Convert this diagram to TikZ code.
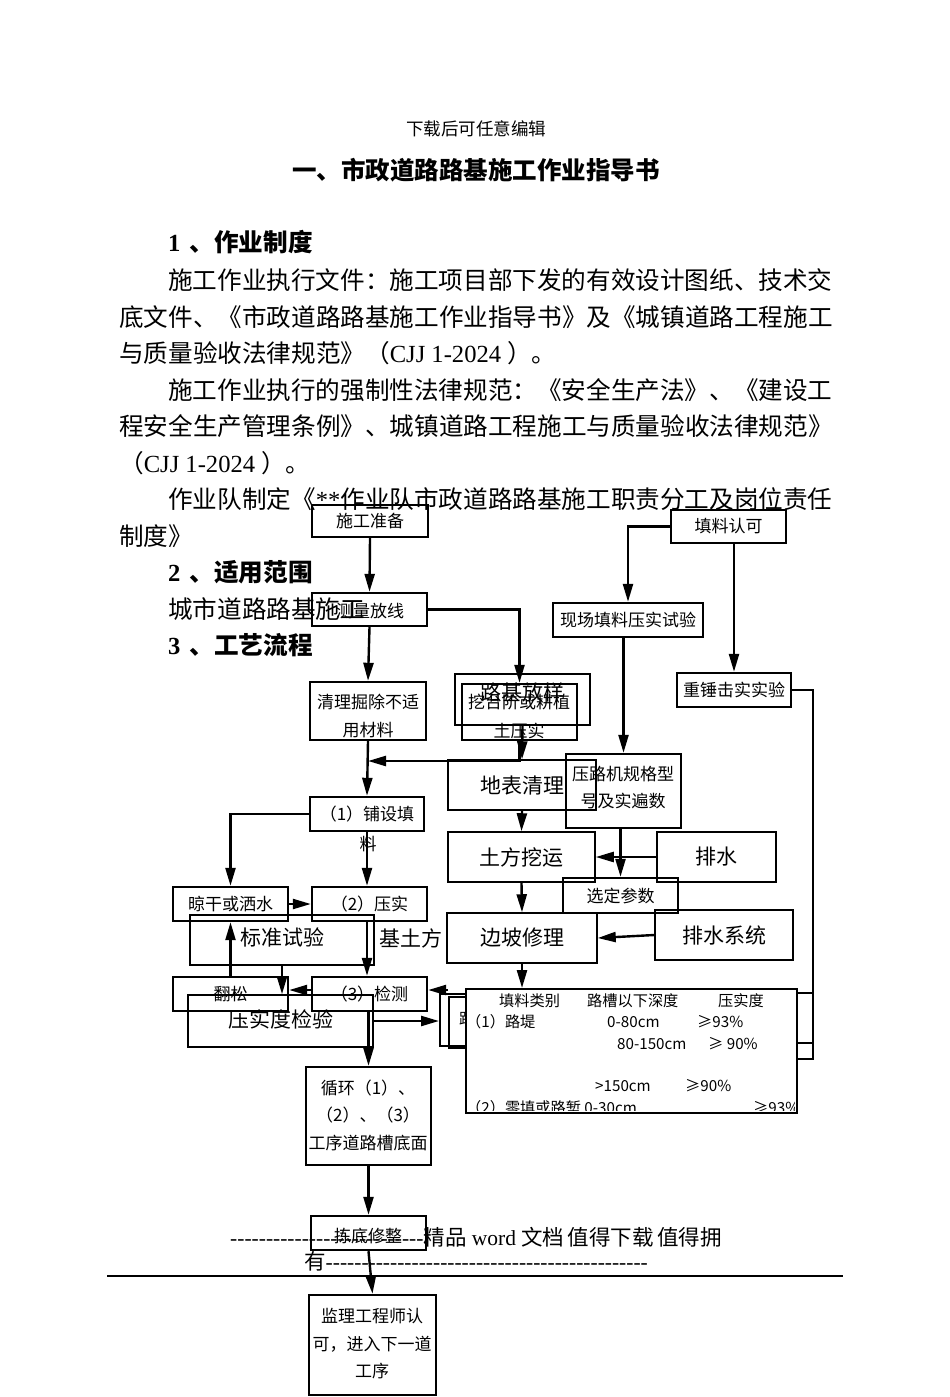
\documentclass[tikz,border=0pt]{standalone}
\usepackage{fontspec}
\setmainfont{Liberation Serif}
\newfontfamily\cjk{Noto Sans CJK SC}
\usetikzlibrary{arrows.meta}
\newcommand\latn[1]{{\rmfamily #1}}
\newcommand\dsh[1]{\foreach \i in {1,...,#1}{\hbox{-}}}
\begin{document}
\begin{tikzpicture}[x=1pt,y=-1pt,
  box/.style={draw, line width=2.4pt, inner sep=0pt, minimum width=115pt, minimum height=34pt, font=\cjk\fontsize{17}{27}\selectfont},
  tbox/.style={draw, line width=1.5pt, inner sep=0pt, font=\cjk\fontsize{21}{27}\selectfont},
  lbl/.style={inner sep=0pt, align=center, font=\cjk\fontsize{17}{27.5}\selectfont},
  big/.style={inner sep=0pt, font=\cjk\fontsize{21}{27}\selectfont},
  body/.style={inner sep=0pt, anchor=west, font=\cjk\fontsize{24.6}{28}\selectfont},
  head/.style={inner sep=0pt, anchor=west, font=\cjk\bfseries\fontsize{24.6}{28}\selectfont},
  tab/.style={inner sep=0pt, anchor=west, font=\cjk\fontsize{15.2}{18}\selectfont},
  conn/.style={line width=2.4pt},
  arr/.style={line width=2.4pt, -{Triangle[length=18pt,width=10pt]}},
]
\useasboundingbox (0,0) rectangle (950,1397);
\fill[white] (0,0) rectangle (950,1397);

% ---------- page text ----------
\node[inner sep=0pt, font=\cjk\fontsize{17.5}{20}\selectfont] (dl) at (476,129) {下载后可任意编辑};
\node[inner sep=0pt, font=\cjk\bfseries\fontsize{24.5}{28}\selectfont] (title) at (476,170) {一、市政道路路基施工作业指导书};
\node[head] (h1) at (168,242) {\latn{\bfseries 1 }\hspace{3pt}、作业制度};
\node[body] (b1) at (168,280) {施工作业执行文件：施工项目部下发的有效设计图纸、技术交};
\node[body] (b2) at (119,317) {底文件、《市政道路路基施工作业指导书》及《城镇道路工程施工};
\node[body] (b3) at (119,353) {与质量验收法律规范》（\latn{CJJ 1-2024 }）。};
\node[body] (b4) at (168,390) {施工作业执行的强制性法律规范：《安全生产法》、《建设工};
\node[body] (b5) at (119,426) {程安全生产管理条例》、城镇道路工程施工与质量验收法律规范》};
\node[body] (b6) at (119,463) {（\latn{CJJ 1-2024 }）。};
\node[body] (b7) at (168,499) {作业队制定《\latn{**}作业队市政道路路基施工职责分工及岗位责任};
\node[body] (b8) at (119,536) {制度》};
\node[head] (h2) at (168,572) {\latn{\bfseries 2 }\hspace{3pt}、适用范围};
\node[body] (b9) at (168,609) {城市道路路基施工};
\node[head] (h3) at (168,645) {\latn{\bfseries 3 }\hspace{3pt}、工艺流程};

% ---------- flow boxes ----------
\node[box, minimum width=116pt, minimum height=32pt] (szb) at (370,521) {施工准备};
\node[box, minimum height=33pt] (tlk) at (728.5,526.5) {填料认可};
\node[box, minimum height=33pt] (clfx) at (369.5,609.5) {};
\node[lbl] (clfxt) at (370,611) {测量放线};
\node[box, minimum width=150pt] (xctl) at (628,620) {现场填料压实试验};
\node[tbox, minimum width=135pt, minimum height=51pt] (ljfy) at (522.5,699.5) {};
\node[big] (ljfyt) at (522,693) {路基放样};
\node[box, minimum height=56pt] (wtj) at (519.5,712) {};
\node[lbl, font=\cjk\fontsize{17}{29}\selectfont] (wtjt) at (519,716.5) {挖台阶或耕植\\土压实};
\node[box, minimum width=116pt, minimum height=58pt] (qlcc) at (368,711) {};
\node[lbl, font=\cjk\fontsize{17}{28}\selectfont] (qlcct) at (368,716) {清理掘除不适\\用材料};
\node[box, minimum width=114pt] (zcjs) at (734,690) {重锤击实实验};
\node[tbox, minimum width=148pt, minimum height=50pt] (dbql) at (522,785) {地表清理};
\node[box, minimum height=74pt] (ylj) at (623.5,791) {};
\node[lbl] (yljt) at (623,787.5) {压路机规格型\\号及实遍数};
\node[tbox, minimum width=147pt, minimum height=50pt] (tfwy) at (521.5,857) {土方挖运};
\node[tbox, minimum width=119pt, minimum height=50pt] (ps) at (716.5,857) {排水};
\node[box, minimum height=35pt] (xdcs) at (620.5,895.5) {选定参数};
\node[tbox, minimum width=138pt, minimum height=50pt] (pssys) at (724,935) {排水系统};
\node[tbox, minimum width=150pt, minimum height=50pt] (bpxl) at (522,938) {边坡修理};
\node[big] (jtf) at (411,938) {基土方};
\node[box, minimum width=114pt] (psts) at (367,814) {（1）铺设填};
\node[lbl] (pstsl) at (368,844) {料};
\node[box] (lg) at (230.5,904) {晾干或洒水};
\node[box] (ys) at (369.5,904) {（2）压实};
\node[tbox, minimum width=184pt, minimum height=50pt] (bzsy) at (282,940) {};
\node[big] (bzsyt) at (282,937) {标准试验};
\node[box] (fs) at (230.5,994) {翻松};
\node[box] (jc) at (369.5,994) {（3）检测};
\node[tbox, minimum width=185pt, minimum height=52pt] (ysdjy) at (280.5,1021) {};
\node[big] (ysdjyt) at (281,1019) {压实度检验};
\node[box, minimum width=125pt, minimum height=98pt] (xh) at (368.5,1116) {};
\node[lbl] (xht) at (368,1115) {循环（1）、\\（2）、（3）\\工序道路槽底面};
\node[box] (jdxz) at (368.5,1233) {};
\node[lbl] (jdxzt) at (368,1236) {拣底修整};
\node[box, minimum width=127pt, minimum height=100pt] (jl) at (372.5,1345) {};
\node[lbl] (jlt) at (372,1344) {监理工程师认\\可，进入下一道\\工序};

% hidden boxes and table
\node[box, minimum width=40pt, minimum height=52pt, anchor=north west] (hA) at (439,993) {};
\node[box, minimum width=32pt, minimum height=51pt, anchor=north west] (hB) at (448,996) {};
\node[tab] (hBt) at (459,1019) {路};
\node[box, fill=white, minimum width=331pt, minimum height=124pt, anchor=north west] (tbl) at (465,988) {};
\begin{scope}
\clip (466.5,989.5) rectangle (794.5,1110.8);
\node[tab] (t1a) at (499,1001) {填料类别};
\node[tab] (t1b) at (587,1001) {路槽以下深度};
\node[tab] (t1c) at (718,1001) {压实度};
\node[tab] (t2a) at (466,1022) {（1）路堤};
\node[tab] (t2b) at (607,1022) {0-80cm};
\node[tab] (t2c) at (697,1022) {≥93\%};
\node[tab] (t3b) at (617,1044) {80-150cm};
\node[tab] (t3c) at (708,1044) {≥ 90\%};
\node[tab] (t4b) at (595,1086) {>150cm};
\node[tab] (t4c) at (685,1086) {≥90\%};
\node[tab] (t5a) at (466,1108) {（2）零填或路堑 0-30cm};
\node[tab] (t5c) at (753,1108) {≥93\%};
\end{scope}

% ---------- connectors ----------
\draw[arr] (szb.south) -- (clfx.north);
\draw[arr] (clfx.east) -| (wtj.north);
\draw[arr] (clfx.south) -- (qlcc.north);
\draw[arr] (qlcc.south) -- (psts.north);
\coordinate (m1) at (368,761);
\draw[arr] (wtj.south) |- (m1);
\draw[arr] (ljfy.south) -- (dbql.north);
\draw[arr] (dbql.south) -- (tfwy.north);
\draw[arr] (tfwy.south) -- (bpxl.north);
\draw[arr] (bpxl.south) -- (bpxl.south |- tbl.north);
\draw[arr] (tlk.west) -| (xctl.north);
\draw[arr] (zcjs.north |- tlk.south) -- (zcjs.north);
\draw[arr] (ylj.north |- xctl.south) -- (ylj.north);
\draw[arr] (xdcs.north |- ylj.south) -- (xdcs.north);
\draw[arr] (ps.west) -- (tfwy.east);
\draw[arr] (pssys.west) -- (bpxl.east);
\coordinate (r0) at (813,993);
\coordinate (r2) at (813,1043);
\coordinate (r3) at (813,1059);
\draw[line width=2pt] (zcjs.east) -| (r3) -- (r3 -| tbl.east);
\draw[line width=2pt] (r0 -| tbl.east) -- (r0);
\draw[line width=2pt] (r2 -| tbl.east) -- (r2);
\draw[arr] (psts.west) -| (lg.north);
\draw[arr] (psts.south) -- (psts.south |- ys.north);
\draw[arr] (lg.east) -- (ys.west);
\draw[arr] (fs.north) -- (lg.south);
\draw[arr] (ys.south -| psts.south) -- (jc.north -| psts.south);
\draw[arr] ([yshift=4pt]jc.west) -- ([yshift=4pt]fs.east);
\draw[arr] (bzsy.south) -- (bzsy.south |- ysdjy.north);
\draw[arr] (jc.south -| xh.north) -- (xh.north);
\draw[arr] (ysdjy.east) -- (ysdjy.east -| hA.west);
\coordinate (hc) at (448,990);
\draw[arr] (hc) -- (hc -| jc.east);
\draw[arr] (xh.south) -- (jdxz.north);
\draw[arr] (jdxz.south) -- (jl.north);

% ---------- footer ----------
\node[inner sep=0pt, anchor=west, font=\fontsize{21.5}{26}\selectfont] (ft1) at (230,1237) {\dsh{27}{\cjk 精品} word {\cjk 文档}\hspace{-2pt} {\cjk 值得下载}\hspace{-2pt} {\cjk 值得拥}};
\node[inner sep=0pt, anchor=west, font=\fontsize{21.5}{26}\selectfont] (ft2) at (304,1261) {{\cjk 有}\dsh{45}};
\coordinate (hl1) at (107,1276);
\coordinate (hl2) at (843,1276);
\draw[line width=1.5pt] (hl1) -- (hl2);
\end{tikzpicture}
\end{document}
